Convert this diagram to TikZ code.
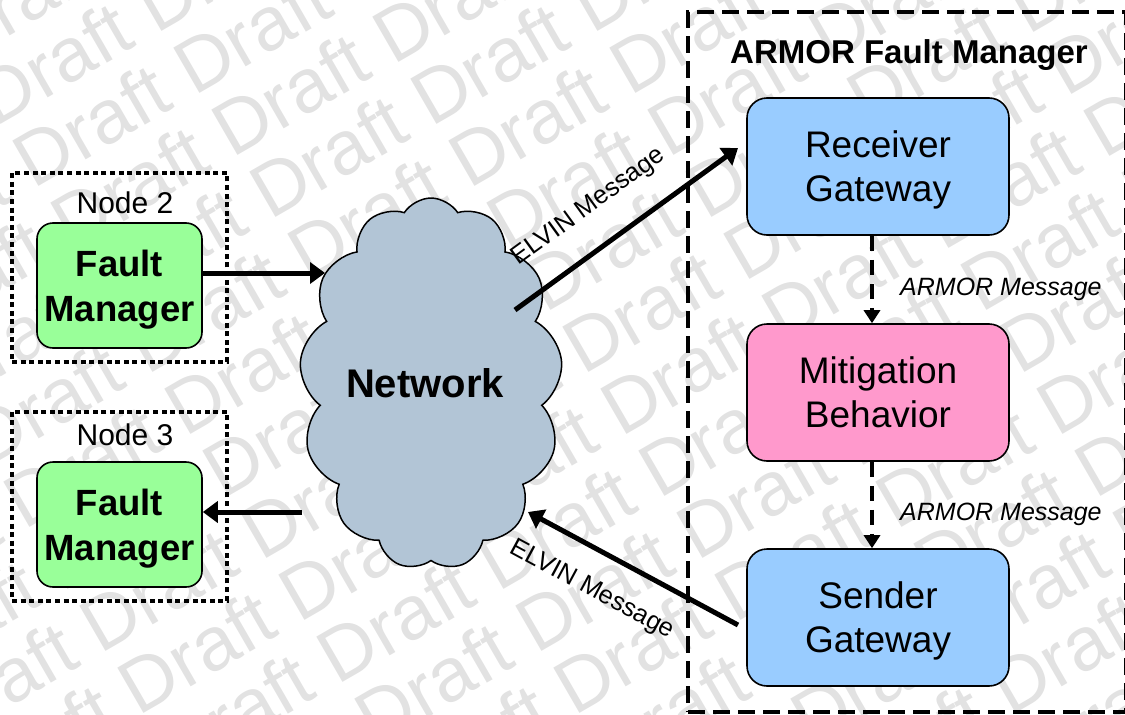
\documentclass[tikz,border=0pt]{standalone}
\usepackage{fontspec}
\setmainfont{Liberation Sans}
\usetikzlibrary{shapes.symbols,arrows.meta}
\definecolor{fmgreen}{HTML}{99FF99}
\definecolor{gwblue}{HTML}{99CCFF}
\definecolor{mbpink}{HTML}{FF99CC}
\definecolor{netblue}{HTML}{B2C5D6}
\definecolor{wmgray}{RGB}{226,226,226}

% one slanted row of the background stamp
\newcommand\stamprow{Draft Draft Draft Draft Draft Draft Draft Draft Draft Draft
  Draft Draft Draft Draft Draft Draft Draft Draft Draft Draft}

\tikzset{
  wm/.style={rotate=30, anchor=base west, inner sep=0pt,
    text=wmgray, font=\fontsize{76}{76}\selectfont},
  hostbox/.style={draw, line width=4pt, dash pattern=on 5pt off 3.6pt,
    minimum width=215pt, minimum height=189pt, inner sep=0pt},
  fmbox/.style={draw, line width=1.6pt, rounded corners=16pt, fill=fmgreen,
    minimum width=165pt, minimum height=125pt, align=center, text depth=0pt,
    font=\bfseries\fontsize{36.5}{45}\selectfont, inner sep=0pt},
  gwbox/.style={draw, line width=1.6pt, rounded corners=20pt,
    minimum width=262pt, minimum height=137pt, align=center, text depth=0pt,
    font=\fontsize{37}{44}\selectfont, inner sep=0pt},
  hostlabel/.style={anchor=base, font=\fontsize{30}{30}\selectfont, inner sep=0pt},
  msg/.style={font=\itshape\fontsize{25}{25}\selectfont, anchor=base west, inner sep=0pt},
  elvin/.style={font=\fontsize{25.5}{25.5}\selectfont, inner sep=0pt},
  flow/.style={line width=5pt, -{Triangle[length=15pt,width=21pt]}},
  innerflow/.style={line width=4pt, dash pattern=on 15pt off 9pt,
    -{Triangle[length=13pt,width=16pt]}},
}

\begin{document}
\begin{tikzpicture}[x=1pt,y=-1pt]
\useasboundingbox (0,0) rectangle (1125,715);

% background stamp, one node per slanted row
\begin{scope}
  \clip (0,0) rectangle (1125,715);
  \foreach \j in {-3,...,15}{
    \pgfmathsetmacro\wx{24+38*\j-165*7}
    \pgfmathsetmacro\wy{113+62*\j+95*7}
    \node[wm] (wmrow\j) at (\wx,\wy) {\stamprow};
  }
\end{scope}

% remote hosts
\node[hostbox] (host2) at (119.5,267.5) {};
\node[hostlabel] (host2lbl) at (125,213) {Node 2};
\node[fmbox] (fm2) at (119.5,285.5) {Fault\\Manager};

\node[hostbox] (host3) at (119.5,506) {};
\node[hostlabel] (host3lbl) at (125,445) {Node 3};
\node[fmbox] (fm3) at (119.5,524.5) {Fault\\Manager};

% network cloud
\node[cloud, cloud puffs=13, cloud puff arc=115, cloud ignores aspect, draw,
  line width=1.5pt, fill=netblue, minimum width=263pt, minimum height=372pt,
  inner sep=0pt] (net) at (431,384) {};
\node[font=\bfseries\fontsize{40}{40}\selectfont, inner sep=0pt] (netlbl) at (425,383) {Network};

% ARMOR fault manager
\node[draw, line width=4pt, dash pattern=on 17pt off 8pt, minimum width=438pt,
  minimum height=700pt, inner sep=0pt] (armor) at (907,362) {};
\node[font=\bfseries\fontsize{33}{33}\selectfont, anchor=base, inner sep=0pt]
  (armorlbl) at (909,63) {ARMOR Fault Manager};

\node[gwbox, fill=gwblue] (rg) at (878,166.5) {Receiver\\Gateway};
\node[gwbox, fill=mbpink] (mb) at (878,392.5) {Mitigation\\Behavior};
\node[gwbox, fill=gwblue] (sg) at (878,617.5) {Sender\\Gateway};

\draw[innerflow] ([xshift=-6pt]rg.south) -- ([xshift=-6pt]mb.north);
\draw[innerflow] ([xshift=-6pt]mb.south) -- ([xshift=-6pt]sg.north);
\node[msg] (msg1) at (900,295) {ARMOR Message};
\node[msg] (msg2) at (900,520) {ARMOR Message};

% host links
\coordinate (netin2) at (325,273);
\coordinate (netout3) at (302,512);
\draw[flow] ([yshift=12.5pt]fm2.east) -- (netin2);
\draw[flow] (netout3) -- ([yshift=12.5pt]fm3.east);

% ELVIN links
\coordinate (netout) at (515,310);
\coordinate (rgin) at (738,148);
\draw[flow] (netout) -- (rgin);
\node[elvin, rotate=36] (elvin1) at (589,207) {ELVIN Message};

\coordinate (sgout) at (738,625);
\coordinate (netin) at (528,512);
\draw[flow] (sgout) -- (netin);
\node[elvin, rotate=-28.3] (elvin2) at (592,590) {ELVIN Message};
\end{tikzpicture}
\end{document}
